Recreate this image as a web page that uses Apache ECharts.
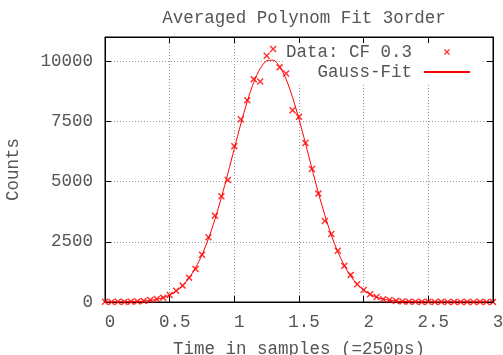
<!DOCTYPE html>
<html>
<head>
<meta charset="utf-8">
<script src="https://cdn.jsdelivr.net/npm/echarts@6/dist/echarts.min.js"></script>
<style>html,body{margin:0;padding:0;background:#fff}#c{width:503px;height:355px}</style>
</head>
<body>
<div id="c"></div>
<script>
var times = [0,0.05,0.1,0.15,0.2,0.25,0.3,0.35,0.4,0.45,0.5,0.55,0.6,0.65,0.7,0.75,0.8,0.85,0.9,0.95,1,1.05,1.1,1.15,1.2,1.25,1.3,1.35,1.4,1.45,1.5,1.55,1.6,1.65,1.7,1.75,1.8,1.85,1.9,1.95,2,2.05,2.1,2.15,2.2,2.25,2.3,2.35,2.4,2.45,2.5,2.55,2.6,2.65,2.7,2.75,2.8,2.85,2.9,2.95,3];
var dataCounts = [8,3,10,5,15,25,45,80,125,180,
  290,470,680,1010,1375,1960,2685,3585,4390,5060,
  6470,7585,8375,9250,9155,10220,10500,9740,9485,7960,
  7685,6600,5520,4500,3360,2825,2130,1500,1125,735,
  500,320,210,115,80,45,25,15,10,5,
  8,3,6,2,5,3,4,2,6,3,4];
var fitCounts = [1,1,3,6,11,21,37,65,111,183,
  291,452,680,995,1418,1958,2630,3427,4339,5337,
  6369,7389,8330,9117,9692,10007,10037,9777,9250,8502,
  7589,6584,5541,4530,3600,2778,2085,1518,1073,737,
  492,318,200,122,73,42,23,13,7,3,
  2,1,0,0,0,0,0,0,0,0,0];
var xTickLabels = ['0','0.5','1','1.5','2','2.5','3'];
var yTickLabels = ['0','2500','5000','7500','10000'];
var titleText = 'Averaged Polynom Fit 3order';
var xName = 'Time in samples (=250ps)';
var yName = 'Counts';
var seriesNames = ['Data: CF 0.3', 'Gauss-Fit'];

var FONT = 'Liberation Mono';
var FS = 17.5;
var TXT = '#555';
var cross = 'path://M0,1.5L1.5,0L5,3.5L8.5,0L10,1.5L6.5,5L10,8.5L8.5,10L5,6.5L1.5,10L0,8.5L3.5,5Z';

var dataPts = times.map(function(t,i){return [t, dataCounts[i]];});
var fitPts = times.map(function(t,i){return [t, fitCounts[i]];});

var chart = echarts.init(document.getElementById('c'), null, {renderer:'canvas'});
var gridLine = {show:true, lineStyle:{color:'#999', type:[1,2], width:1}};
chart.setOption({
  animation:false,
  backgroundColor:'#fff',
  textStyle:{fontFamily:FONT},
  title:{text:titleText, left:299, top:4, textAlign:'center',
    textStyle:{fontFamily:FONT, fontSize:FS, fontWeight:'normal', color:TXT}},
  grid:{left:105, right:10, top:37, bottom:53, show:true, borderColor:'#000', borderWidth:1,
    backgroundColor:'transparent', outerBoundsMode:'none', containLabel:false},
  legend:{
    orient:'vertical', right:20, top:38, align:'right', z:1,
    backgroundColor:'#fff', padding:[5,12,2,2],
    itemWidth:46, itemHeight:6, itemGap:2,
    textStyle:{fontFamily:FONT, fontSize:FS, color:TXT, padding:[0,7,0,0]},
    data:[{name:seriesNames[0]},
          {name:seriesNames[1], itemStyle:{color:'rgba(0,0,0,0)', borderColor:'rgba(0,0,0,0)', borderWidth:0, opacity:0}}]
  },
  xAxis:[{
    type:'value', min:0, max:3, interval:0.5, position:'bottom',
    name:xName, nameLocation:'middle', nameGap:38,
    nameTextStyle:{fontFamily:FONT, fontSize:FS, color:TXT},
    axisLine:{show:true, onZero:false, lineStyle:{color:'#000', width:1}},
    axisTick:{show:true, inside:true, length:6, lineStyle:{color:'#000'}},
    axisLabel:{margin:11, fontFamily:FONT, fontSize:FS, color:TXT, padding:[0,0,0,10],
      formatter:function(v){var i=Math.round(v/0.5);return xTickLabels[i]!==undefined?xTickLabels[i]:'';}},
    splitLine:gridLine
  },{
    type:'value', min:0, max:3, interval:0.5, position:'top', z:10,
    axisLine:{show:true, onZero:false, lineStyle:{color:'#000', width:1}},
    axisTick:{show:true, inside:true, length:6, lineStyle:{color:'#000'}},
    axisLabel:{show:false}, splitLine:{show:false}
  }],
  yAxis:[{
    type:'value', min:0, max:11000, interval:2500, position:'left',
    name:yName, nameLocation:'middle', nameGap:83, nameRotate:90,
    nameTextStyle:{fontFamily:FONT, fontSize:FS, color:TXT},
    axisLine:{show:true, onZero:false, lineStyle:{color:'#000', width:1}},
    axisTick:{show:true, inside:true, length:6, lineStyle:{color:'#000'}},
    axisLabel:{margin:12, fontFamily:FONT, fontSize:FS, color:TXT, showMaxLabel:false,
      formatter:function(v){var i=Math.round(v/2500);return (v%2500===0 && yTickLabels[i]!==undefined)?yTickLabels[i]:'';}},
    splitLine:gridLine
  },{
    type:'value', min:0, max:11000, interval:2500, position:'right', z:10,
    axisLine:{show:true, onZero:false, lineStyle:{color:'#000', width:1}},
    axisTick:{show:true, inside:true, length:6, lineStyle:{color:'#000'}},
    axisLabel:{show:false}, splitLine:{show:false}
  }],
  series:[{
    name:seriesNames[0], type:'scatter', data:dataPts,
    symbol:cross, symbolSize:7, itemStyle:{color:'#ff0000'}, z:3
  },{
    name:seriesNames[1], type:'line', data:fitPts, smooth:0.3,
    symbol:'none', lineStyle:{color:'#ff0000', width:1}, itemStyle:{color:'#ff0000'}, z:2
  }]
});
</script>
</body>
</html>
